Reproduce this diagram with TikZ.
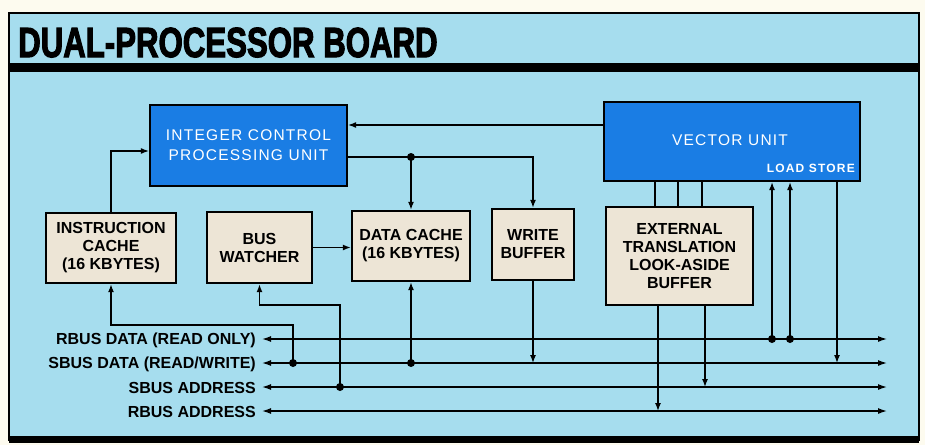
\documentclass[tikz,border=0pt]{standalone}
\usepackage{fontspec}
\setmainfont{Liberation Sans}
\newfontfamily\titlefont[BoldFeatures={FakeBold=3}]{Liberation Sans}
\usetikzlibrary{arrows.meta,calc}
\definecolor{cream}{HTML}{FDFBEF}
\definecolor{panelblue}{HTML}{A6DDEE}
\definecolor{unitblue}{HTML}{1A7DE4}
\definecolor{beige}{HTML}{EDE5D6}
\tikzset{
  unitbox/.style={draw=black, line width=2.2pt, fill=unitblue, text=white, align=center,
    font=\fontsize{15.5}{20}\selectfont\addfontfeatures{LetterSpace=8}, inner sep=0pt},
  cachebox/.style={draw=black, line width=2.4pt, fill=beige, text=black, align=center,
    font=\fontsize{16}{18}\selectfont\bfseries, inner sep=0pt},
  wire/.style={line width=1.3pt, black},
  arr/.style={wire, -{Latex[length=8pt,width=6pt]}},
  busline/.style={wire, {Latex[length=9pt,width=6pt]}-{Latex[length=9pt,width=6pt]}},
  buslabel/.style={anchor=east, font=\fontsize{16}{18}\selectfont\bfseries, inner sep=0pt},
  jdot/.style={circle, fill=black, inner sep=0pt, minimum size=8pt}
}
\begin{document}
\begin{tikzpicture}[x=1pt,y=-1pt]
\useasboundingbox (0,0) rectangle (925,445);
\fill[cream] (0,0) rectangle (925,445);
% panel
\fill[panelblue] (9,13) rectangle (919,440);
\draw[line width=2pt] (9,13) rectangle (919,440);
\fill[black] (9,63) rectangle (919,72);
\fill[black] (9,436) rectangle (919,443);
% title
\node[anchor=base west, inner sep=0pt, font=\fontsize{40}{40}\selectfont\titlefont\bfseries] (title) at (18,57)
  {\scalebox{0.78}[1.05]{DUAL-PROCESSOR BOARD}};

% units
\node[unitbox, minimum width=197pt, minimum height=81pt] (icpu) at (248.5,145.5)
  {INTEGER CONTROL\\PROCESSING UNIT};
\node[unitbox, minimum width=256pt, minimum height=79pt] (vec) at (732,141.5) {};
\node[text=white, inner sep=0pt, font=\fontsize{15.5}{20}\selectfont\addfontfeatures{LetterSpace=8}] (veclabel) at (730,140) {VECTOR UNIT};
\node[anchor=base east, text=white, inner sep=0pt, font=\fontsize{12}{14}\selectfont\bfseries\addfontfeatures{LetterSpace=10}] (ls) at (855,172) {LOAD STORE};

\node[cachebox, minimum width=130pt, minimum height=70pt] (ic) at (111,248) {INSTRUCTION\\CACHE\\(16 KBYTES)};
\node[cachebox, minimum width=105pt, minimum height=71pt] (bw) at (259.5,247.5) {BUS\\WATCHER};
\node[cachebox, minimum width=118pt, minimum height=70pt] (dc) at (411,246) {DATA CACHE\\(16 KBYTES)};
\node[cachebox, minimum width=82pt, minimum height=71pt] (wb) at (533,244.5) {WRITE\\BUFFER};
\node[cachebox, minimum width=147pt, minimum height=98pt] (tlb) at (679.5,256) {EXTERNAL\\TRANSLATION\\LOOK-ASIDE\\BUFFER};

% buses
\coordinate (rdL) at (262,339); \coordinate (rdR) at (887,339);
\coordinate (sdL) at (262,363); \coordinate (sdR) at (887,363);
\coordinate (saL) at (262,387); \coordinate (saR) at (887,387);
\coordinate (raL) at (262,411); \coordinate (raR) at (887,411);
\draw[busline] (rdL) -- (rdR);
\draw[busline] (sdL) -- (sdR);
\draw[busline] (saL) -- (saR);
\draw[busline] (raL) -- (raR);
\node[buslabel] (rdlab) at (256,340) {RBUS DATA (READ ONLY)};
\node[buslabel] (sdlab) at (256,364) {SBUS DATA (READ/WRITE)};
\node[buslabel] (salab) at (256,388) {SBUS ADDRESS};
\node[buslabel] (ralab) at (256,412) {RBUS ADDRESS};

% junctions on buses
\coordinate (j1) at (293,363);
\coordinate (j2) at (340,387);
\coordinate (j3) at (dc.south |- sdL);
\coordinate (j4) at ([xshift=40pt]vec.south |- rdL);
\coordinate (j5) at ([xshift=58pt]vec.south |- rdL);

% instruction cache
\draw[arr] (ic.north) |- ([yshift=-5.5pt]icpu.west);
\draw[arr] (j1) -- (j1 |- 0,325) -| (ic.south);
% bus watcher
\draw[arr] (j2) -- (j2 |- 0,305) -| (bw.south);
\draw[arr] (bw.east) -- (dc.west |- bw.east);
% cpu to data cache / write buffer
\coordinate (cpuout) at ([yshift=-11.5pt]icpu.east);
\coordinate (j6) at (dc.north |- cpuout);
\draw[arr] (cpuout) -| (wb.north);
\draw[arr] (j6) -- (dc.north);
\draw[arr] (j3) -- (dc.south);
\draw[arr] (wb.south) -- (wb.south |- sdL);
% vector unit to cpu
\coordinate (vecout) at ([yshift=16.5pt]vec.west);
\draw[arr] (vecout) -- (icpu.east |- vecout);
% vector unit to tlb
\foreach \dx in {-24.5,-1.5,22.5}
  \draw[wire] ([xshift=\dx pt]tlb.north) -- ([xshift=\dx pt]tlb.north |- vec.south);
% tlb to address buses
\coordinate (tlbA) at ([xshift=-21.5pt]tlb.south);
\coordinate (tlbB) at ([xshift=25.5pt]tlb.south);
\draw[arr] (tlbA) -- (tlbA |- raL);
\draw[arr] (tlbB) -- (tlbB |- saL);
% load / store
\coordinate (vst) at ([xshift=105pt]vec.south);
\draw[arr] (j4) -- (j4 |- vec.south);
\draw[arr] (j5) -- (j5 |- vec.south);
\draw[arr] (vst) -- (vst |- sdL);

% dots
\foreach \p in {j1,j2,j3,j4,j5,j6}
  \node[jdot] at (\p) {};
\end{tikzpicture}
\end{document}
